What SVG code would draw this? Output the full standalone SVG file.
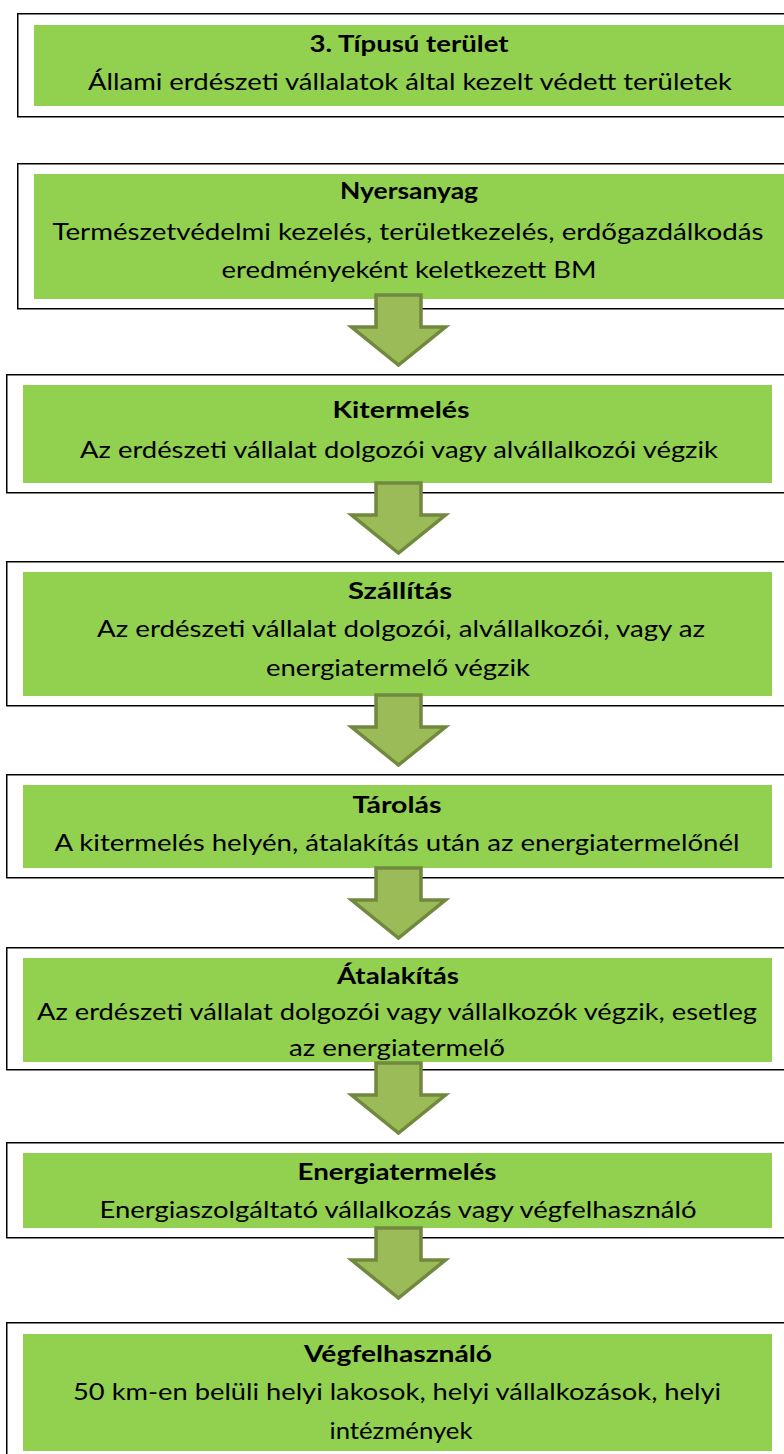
<svg xmlns="http://www.w3.org/2000/svg" width="784" height="1454" viewBox="0 0 784 1454">
  <style>
    .frame { fill: #ffffff; stroke: #000000; stroke-width: 1.5; }
    .panel { fill: #92D050; }
    .title { font-family: Lato, "Open Sans", "Liberation Sans", sans-serif; font-size: 23px; font-weight: bold; fill: #000; text-anchor: middle; }
    .body { font-family: Lato, "Open Sans", "Liberation Sans", sans-serif; font-size: 23px; fill: #000; text-anchor: middle; }
    .arrow { fill: #9BBB59; stroke: #71893F; stroke-width: 3.5; stroke-linejoin: miter; }
  </style>
  <defs>
    <!-- block arrow pointing down, origin at the top centre of the shaft -->
    <path id="down" d="M -22.5 0 H 22.5 V 32 H 47 L 0 70 L -47 32 H -22.5 Z"/>
  </defs>

  <rect width="784" height="1454" fill="#ffffff"/>

  <g id="node-area">
    <rect class="frame" x="17.75" y="13.75" width="800" height="103"/>
    <rect class="panel" x="34" y="25" width="750" height="81"/>
    <text class="title" x="409" y="52" textLength="199" lengthAdjust="spacingAndGlyphs">3. Típusú terület</text>
    <text class="body" x="410" y="90" textLength="644" lengthAdjust="spacingAndGlyphs">Állami erdészeti vállalatok által kezelt védett területek</text>
  </g>

  <g id="node-nyersanyag">
    <rect class="frame" x="17.75" y="163.75" width="800" height="145"/>
    <rect class="panel" x="34" y="174" width="750" height="125"/>
    <text class="title" x="409" y="199" textLength="138" lengthAdjust="spacingAndGlyphs">Nyersanyag</text>
    <text class="body" x="408" y="240" textLength="711" lengthAdjust="spacingAndGlyphs">Természetvédelmi kezelés, területkezelés, erdőgazdálkodás</text>
    <text class="body" x="409" y="278" textLength="375" lengthAdjust="spacingAndGlyphs">eredményeként keletkezett BM</text>
  </g>

  <g id="node-kitermeles">
    <rect class="frame" x="6.75" y="374.75" width="800" height="118"/>
    <rect class="panel" x="23" y="385" width="749" height="98"/>
    <text class="title" x="401" y="418" textLength="137" lengthAdjust="spacingAndGlyphs">Kitermelés</text>
    <text class="body" x="399" y="458" textLength="638" lengthAdjust="spacingAndGlyphs">Az erdészeti vállalat dolgozói vagy alvállalkozói végzik</text>
  </g>

  <g id="node-szallitas">
    <rect class="frame" x="6.75" y="561.75" width="800" height="144"/>
    <rect class="panel" x="23" y="572" width="749" height="124"/>
    <text class="title" x="400" y="599" textLength="104" lengthAdjust="spacingAndGlyphs">Szállítás</text>
    <text class="body" x="401" y="637" textLength="608" lengthAdjust="spacingAndGlyphs">Az erdészeti vállalat dolgozói, alvállalkozói, vagy az</text>
    <text class="body" x="398" y="676" textLength="264" lengthAdjust="spacingAndGlyphs">energiatermelő végzik</text>
  </g>

  <g id="node-tarolas">
    <rect class="frame" x="6.75" y="774.75" width="800" height="103"/>
    <rect class="panel" x="23" y="785" width="749" height="83"/>
    <text class="title" x="397" y="813" textLength="89" lengthAdjust="spacingAndGlyphs">Tárolás</text>
    <text class="body" x="397" y="851" textLength="685" lengthAdjust="spacingAndGlyphs">A kitermelés helyén, átalakítás után az energiatermelőnél</text>
  </g>

  <g id="node-atalakitas">
    <rect class="frame" x="6.75" y="947.75" width="800" height="122"/>
    <rect class="panel" x="23" y="958" width="749" height="104"/>
    <text class="title" x="398" y="984" textLength="122" lengthAdjust="spacingAndGlyphs">Átalakítás</text>
    <text class="body" x="397" y="1020" textLength="720" lengthAdjust="spacingAndGlyphs">Az erdészeti vállalat dolgozói vagy vállalkozók végzik, esetleg</text>
    <text class="body" x="397" y="1056" textLength="216" lengthAdjust="spacingAndGlyphs">az energiatermelő</text>
  </g>

  <g id="node-energiatermeles">
    <rect class="frame" x="6.75" y="1142.75" width="800" height="95"/>
    <rect class="panel" x="23" y="1153" width="749" height="75"/>
    <text class="title" x="397" y="1180" textLength="199" lengthAdjust="spacingAndGlyphs">Energiatermelés</text>
    <text class="body" x="398" y="1218" textLength="597" lengthAdjust="spacingAndGlyphs">Energiaszolgáltató vállalkozás vagy végfelhasználó</text>
  </g>

  <g id="node-vegfelhasznalo">
    <rect class="frame" x="6.75" y="1322.75" width="800" height="140"/>
    <rect class="panel" x="23" y="1334" width="749" height="117"/>
    <text class="title" x="398" y="1362" textLength="188" lengthAdjust="spacingAndGlyphs">Végfelhasználó</text>
    <text class="body" x="397" y="1400" textLength="648" lengthAdjust="spacingAndGlyphs">50 km-en belüli helyi lakosok, helyi vállalkozások, helyi</text>
    <text class="body" x="401" y="1439" textLength="143" lengthAdjust="spacingAndGlyphs">intézmények</text>
  </g>

  <g id="connectors">
    <use href="#down" class="arrow" x="398.5" y="295"/>
    <use href="#down" class="arrow" x="398.5" y="483"/>
    <use href="#down" class="arrow" x="398.5" y="695"/>
    <use href="#down" class="arrow" x="398.5" y="868"/>
    <use href="#down" class="arrow" x="398.5" y="1063"/>
    <use href="#down" class="arrow" x="398.5" y="1228"/>
  </g>
</svg>
